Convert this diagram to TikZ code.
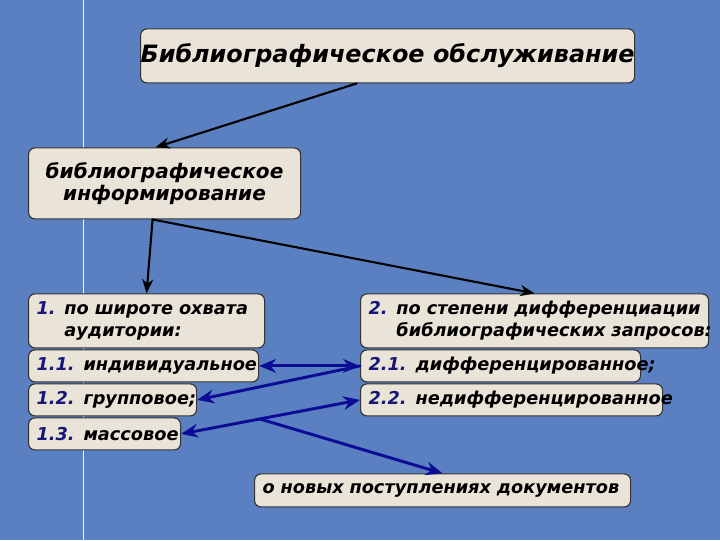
\documentclass[tikz,border=0pt]{standalone}
\usepackage{fontspec}
\setmainfont{DejaVu Sans}
\usetikzlibrary{arrows.meta}
\usepackage{xcolor}
\definecolor{bgblue}{RGB}{90,128,194}
\definecolor{boxfill}{RGB}{234,227,215}
\definecolor{numblue}{RGB}{22,22,118}
\definecolor{linkblue}{RGB}{12,12,150}
\newcommand{\nr}[1]{\textcolor{numblue}{#1}}
\newcommand{\itm}[2]{\mbox{\nr{#1} #2}}

\begin{document}
\begin{tikzpicture}[>={Stealth[length=3.6mm,width=2.8mm]},font=\bfseries\itshape,line cap=round,
  card/.style={draw=black!80,line width=0.8pt,fill=boxfill,rounded corners=1.6mm,anchor=north west},
  item/.style={card,inner xsep=0.2cm,inner ysep=0pt,align=left,minimum height=0.8cm,font=\bfseries\itshape\fontsize{12.6}{15.6}\selectfont},
  link/.style={linkblue,line width=2.1pt,>={Stealth[length=4.2mm,width=3.4mm]}}]
\fill[bgblue] (0,0) rectangle (18,13.5);
\draw[white!80!yellow,line width=0.5pt] (2.075,0) -- (2.075,13.5);
\node[card,minimum width=12.3cm,minimum height=1.35cm,inner sep=0pt,font=\bfseries\itshape\fontsize{17}{20}\selectfont] (top) at (3.5,12.8) {Библиографическое обслуживание};
\node[card,minimum width=6.8cm,minimum height=1.775cm,inner sep=0pt,align=center,font=\bfseries\itshape\fontsize{14.3}{15.8}\selectfont] (info) at (0.7,9.825) {библиографическое\\информирование};
\node[item,text width=5.5cm,minimum height=1.35cm] (b1) at (0.7,6.175) {\itm{1.}{по широте охвата}\\\phantom{1. }аудитории:};
\node[item,text width=5.35cm] (b11) at (0.7,4.775) {\itm{1.1.}{индивидуальное}};
\node[item,text width=3.8cm] (b12) at (0.7,3.925) {\itm{1.2.}{групповое;}};
\node[item,text width=3.4cm] (b13) at (0.7,3.075) {\itm{1.3.}{массовое}};
\node[item,text width=8.3cm,minimum height=1.35cm] (b2) at (9,6.175) {\itm{2.}{по степени дифференциации}\\\mbox{\phantom{2. }библиографических запросов:}};
\node[item,text width=6.6cm] (b21) at (9,4.775) {\itm{2.1.}{дифференцированное;}};
\node[item,text width=7.15cm] (b22) at (9,3.925) {\itm{2.2.}{недифференцированное}};
\node[item,text width=9cm,minimum height=0.825cm] (bot) at (6.35,1.675) {\mbox{о новых поступлениях документов}};
\draw[->,line width=1.5pt] ([xshift=-0.775cm]top.south) -- ([xshift=-0.225cm]info.north);
\draw[->,line width=1.5pt] ([xshift=-0.3cm]info.south) -- (b1.north);
\draw[->,line width=1.5pt] ([xshift=-0.3cm]info.south) -- (b2.north);
\draw[link,<->] (b11.east) -- (b21.west);
\draw[link,->] (b21.west) -- (b12.east);
\draw[link,<->] (b13.east) -- coordinate[pos=0.44] (split) (b22.west);
\draw[link,->] (split) -- (bot.north);
\end{tikzpicture}
\end{document}
